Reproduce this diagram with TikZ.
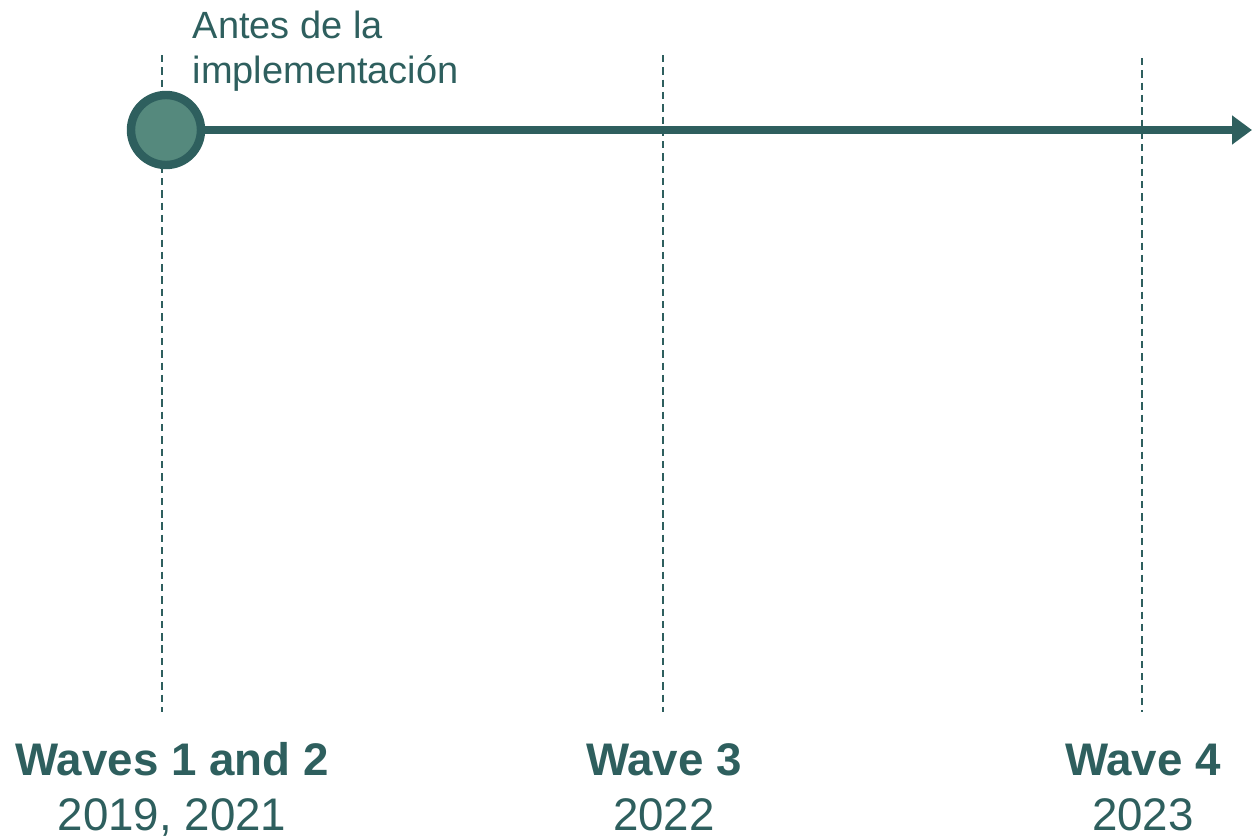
\documentclass[tikz,border=0pt]{standalone}
\usepackage{fontspec}
\setmainfont{Liberation Sans}
\usepackage{xcolor}
\usetikzlibrary{positioning, arrows.meta}

\definecolor{tealdark}{HTML}{2E5F5E}
\definecolor{tealfill}{HTML}{55897D}

\begin{document}
\begin{tikzpicture}[
    node distance=0.2cm,
    wave/.style={font=\fontsize{13}{15}\selectfont\bfseries, text=tealdark, inner sep=0pt, anchor=base},
    year/.style={font=\fontsize{13}{15}\selectfont, text=tealdark, inner sep=0pt, anchor=base},
    guide/.style={draw=tealdark, line width=0.35pt, dash pattern=on 2.1pt off 1.4pt},
    milestone/.style={circle, draw=tealdark, fill=tealfill, line width=2.4pt, minimum size=0.7cm, inner sep=0pt}
]
    \useasboundingbox (0,0) rectangle (12.52,-8.4);

    % guide lines for each wave
    \coordinate (top12) at (1.62,-0.55);
    \coordinate (bot12) at (1.62,-7.12);
    \coordinate (top3) at (6.63,-0.55);
    \coordinate (bot3) at (6.63,-7.12);
    \coordinate (top4) at (11.42,-0.58);
    \coordinate (bot4) at (11.42,-7.12);
    \draw[guide] (top12) -- (bot12);
    \draw[guide] (top3) -- (bot3);
    \draw[guide] (top4) -- (bot4);

    % timeline
    \node[milestone] (start) at (1.66,-1.30) {};
    \coordinate (tip) at (12.52,-1.30);
    \draw[tealdark, line width=2.5pt, -{Triangle[length=0.2cm, width=0.28cm]}] (start) -- (tip);

    \node[anchor=north west, align=left, inner sep=0pt, text=tealdark,
          font=\fontsize{10.8}{12.8}\selectfont] (before) at (1.92,-0.10)
        {Antes de la\\implementación};

    % wave labels
    \node[wave] (wave12) at (1.72,-7.75) {Waves 1 and 2};
    \node[year] (year12) at ([yshift=-0.55cm]wave12.base) {2019, 2021};
    \node[wave] (wave3) at (6.64,-7.75) {Wave 3};
    \node[year] (year3) at ([yshift=-0.55cm]wave3.base) {2022};
    \node[wave] (wave4) at (11.43,-7.75) {Wave 4};
    \node[year] (year4) at ([yshift=-0.55cm]wave4.base) {2023};

\end{tikzpicture}
\end{document}
